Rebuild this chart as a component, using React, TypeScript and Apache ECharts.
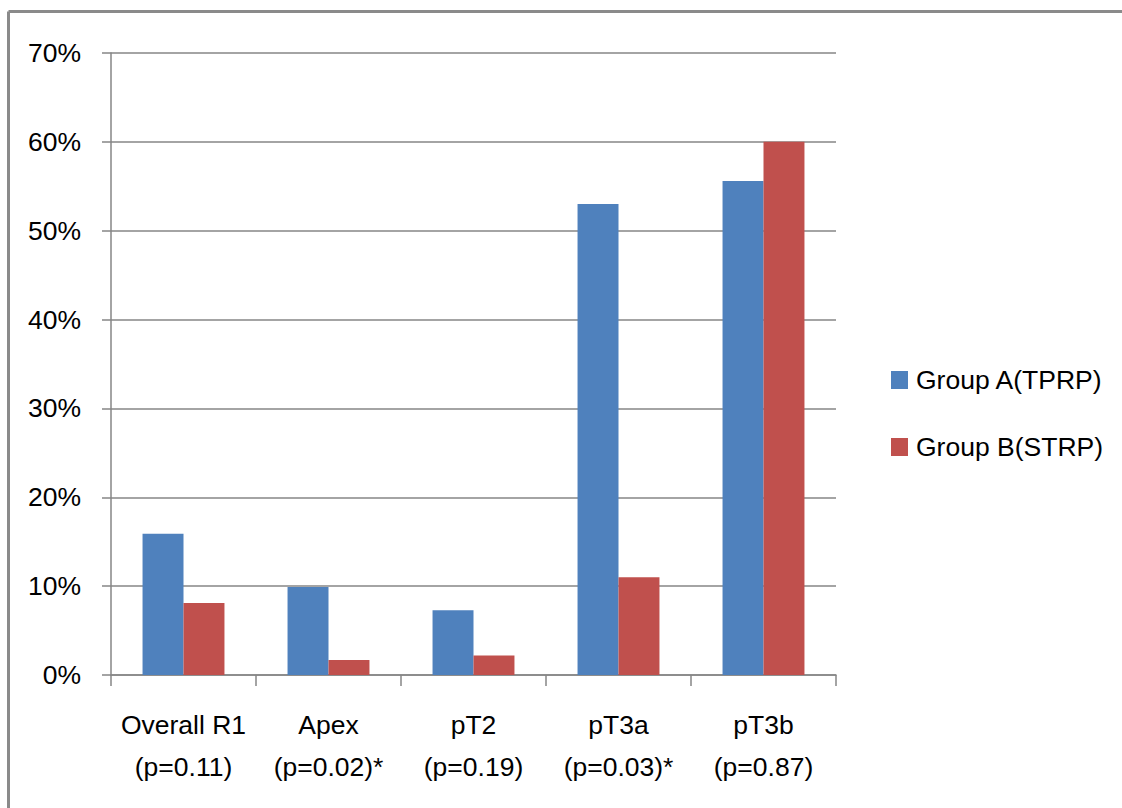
import React, { useEffect, useRef } from "react";
import * as echarts from "echarts";

const categories = [
  "Overall R1\n(p=0.11)",
  "Apex\n(p=0.02)*",
  "pT2\n(p=0.19)",
  "pT3a\n(p=0.03)*",
  "pT3b\n(p=0.87)",
];
const groupA = [15.9, 9.9, 7.3, 53.0, 55.6];
const groupB = [8.1, 1.7, 2.2, 11.0, 60.0];
const seriesNames = ["Group A(TPRP)", "Group B(STRP)"];

const FONT = '"Liberation Sans", Arial, sans-serif';
const FS = 26.5;

export default function App() {
  const ref = useRef<HTMLDivElement>(null);
  useEffect(() => {
    if (!ref.current) return;
    const chart = echarts.init(ref.current, undefined, { renderer: "svg" });
    chart.setOption({
      animation: false,
      backgroundColor: "#ffffff",
      textStyle: { fontFamily: FONT },
      graphic: [
        { type: "line", shape: { x1: 8.5, y1: 11.5, x2: 1122, y2: 11.5 }, style: { stroke: "#8a8a8a", lineWidth: 3 } },
        { type: "line", shape: { x1: 8.5, y1: 11.5, x2: 8.5, y2: 808 }, style: { stroke: "#8a8a8a", lineWidth: 3 } },
      ],
      grid: { left: 111, right: 286, top: 53, bottom: 133, containLabel: false },
      legend: {
        orient: "vertical",
        left: 886,
        top: 360,
        itemWidth: 17,
        itemHeight: 18,
        itemGap: 37,
        icon: "rect",
        textStyle: { fontFamily: FONT, fontSize: FS, lineHeight: 30, color: "#000", padding: [0, 0, 0, 3] },
        data: seriesNames,
      },
      xAxis: {
        type: "category",
        data: categories,
        axisLine: { lineStyle: { color: "#868686", width: 1.5 } },
        axisTick: { show: true, alignWithLabel: false, length: 11, lineStyle: { color: "#868686", width: 1.5 } },
        axisLabel: {
          color: "#000",
          fontFamily: FONT,
          fontSize: FS,
          lineHeight: 42,
          margin: 29,
          interval: 0,
        },
      },
      yAxis: {
        type: "value",
        min: 0,
        max: 70,
        interval: 10,
        axisLine: { show: true, lineStyle: { color: "#868686", width: 1.5 } },
        axisTick: { show: true, length: 9, lineStyle: { color: "#868686", width: 1.5 } },
        splitLine: { lineStyle: { color: "#868686", width: 1.5 } },
        axisLabel: {
          color: "#000",
          fontFamily: FONT,
          fontSize: FS,
          margin: 30,
          formatter: (v: number) => `${v}%`,
        },
      },
      series: [
        {
          name: seriesNames[0],
          type: "bar",
          data: groupA,
          barGap: "0%",
          barCategoryGap: "43.5%",
          itemStyle: { color: "#4F81BD" },
        },
        {
          name: seriesNames[1],
          type: "bar",
          data: groupB,
          barGap: "0%",
          barCategoryGap: "43.5%",
          itemStyle: { color: "#C0504D" },
        },
      ],
    });
    return () => chart.dispose();
  }, []);
  return (
    <div
      ref={ref}
      style={{ position: "fixed", left: 0, top: 0, width: 1122, height: 808 }}
    />
  );
}
